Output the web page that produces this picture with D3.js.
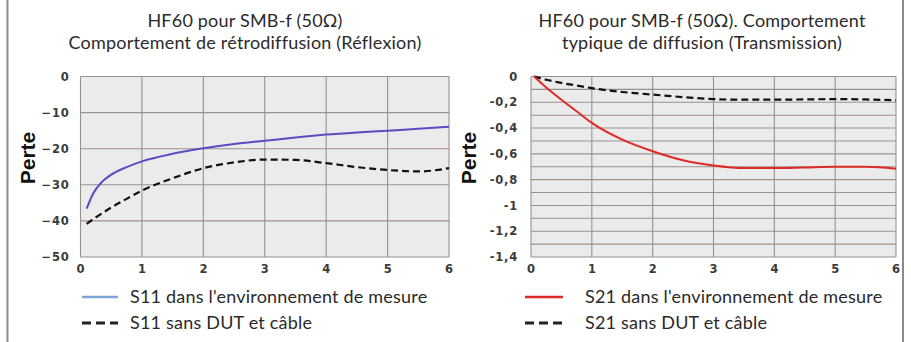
<!DOCTYPE html>
<html><head><meta charset="utf-8">
<script src="https://cdn.jsdelivr.net/npm/d3@7"></script>
<style>
html,body{margin:0;padding:0;background:#fff;}
svg{display:block;}
.title{font-family:Lato,"Open Sans",sans-serif;font-size:18px;letter-spacing:0.2px;fill:#2a2a2a;}
.leg{font-family:Lato,"Open Sans",sans-serif;font-size:18px;letter-spacing:0.2px;fill:#2a2a2a;}
.tick text{font-family:"DejaVu Sans",Arial,sans-serif;font-weight:bold;font-size:11.5px;letter-spacing:0.8px;fill:#3a3a3a;}
.ytitle{font-family:"Liberation Sans",Arial,sans-serif;font-weight:bold;font-size:21px;fill:#111;}
</style>
</head><body>
<svg id="c" width="911" height="342"></svg>
<script>
// ---- data ----
const freqS11 = [0.1,0.2,0.35,0.5,0.75,1,1.5,2,2.5,3,3.5,4,4.5,5,5.5,6];
const s11Measured = [-36.6,-32.6,-29.2,-27.2,-25.1,-23.5,-21.4,-19.9,-18.7,-17.8,-16.9,-16.1,-15.5,-15.0,-14.5,-13.9];
const s11Reference = [-40.8,-39.6,-37.9,-36.3,-33.9,-31.6,-28.2,-25.4,-23.8,-23.0,-23.1,-24.0,-25.1,-25.9,-26.3,-25.4];

const freqS21 = [0.05,0.25,0.5,0.75,1,1.5,2,2.5,3,3.5,4,4.5,5,5.5,6];
const s21Measured = [0,-0.085,-0.18,-0.27,-0.36,-0.49,-0.58,-0.65,-0.69,-0.71,-0.71,-0.705,-0.70,-0.70,-0.715];
const s21Reference = [0,-0.025,-0.05,-0.07,-0.09,-0.12,-0.14,-0.16,-0.175,-0.18,-0.18,-0.178,-0.175,-0.178,-0.185];

const xTicks = [0,1,2,3,4,5,6];
const yTicksS11 = [0,-10,-20,-30,-40,-50];
const yGridS21 = [0,-0.1,-0.2,-0.3,-0.4,-0.5,-0.6,-0.7,-0.8,-0.9,-1,-1.1,-1.2,-1.3,-1.4];
const yTicksS21 = [0,-0.2,-0.4,-0.6,-0.8,-1,-1.2,-1.4];

const titleLeft = ["HF60 pour SMB-f (50\u03A9)","Comportement de rétrodiffusion (Réflexion)"];
const titleRight = ["HF60 pour SMB-f (50\u03A9). Comportement","typique de diffusion (Transmission)"];
const legendLeft = ["S11 dans l'environnement de mesure","S11 sans DUT et câble"];
const legendRight = ["S21 dans l'environnement de mesure","S21 sans DUT et câble"];
const yTitle = "Perte";

// ---- drawing ----
const svg = d3.select("#c");
const gridColor = "#9a918b";

// frame lines
svg.append("line").attr("x1",7.5).attr("x2",7.5).attr("y1",0).attr("y2",342).attr("stroke","#8a8a8a").attr("stroke-width",2);
svg.append("line").attr("x1",903).attr("x2",903).attr("y1",0).attr("y2",342).attr("stroke","#8a8a8a").attr("stroke-width",2);

function panel(opt){
  const x = d3.scaleLinear().domain([0,6]).range(opt.xr);
  const y = d3.scaleLinear().domain(opt.yd).range([257,76.5]);
  const g = svg.append("g");
  g.append("rect").attr("x",opt.xr[0]).attr("y",76.5).attr("width",opt.xr[1]-opt.xr[0]).attr("height",257-76.5).attr("fill","#ebebeb");
  // horizontal grid
  g.append("g").selectAll("line").data(opt.grid).join("line")
    .attr("x1",opt.xr[0]).attr("x2",opt.xr[1]).attr("y1",d=>y(d)).attr("y2",d=>y(d))
    .attr("stroke",gridColor).attr("stroke-width",1.1);
  // vertical grid
  g.append("g").selectAll("line").data(xTicks).join("line")
    .attr("x1",d=>x(d)).attr("x2",d=>x(d)).attr("y1",76.5).attr("y2",257)
    .attr("stroke",gridColor).attr("stroke-width",1.1);
  // axes
  const ax = g.append("g").attr("transform","translate(0,257)")
    .call(d3.axisBottom(x).tickValues(xTicks).tickSize(0).tickPadding(8).tickFormat(d3.format("d")));
  ax.select(".domain").remove();
  const ay = g.append("g").attr("transform",`translate(${opt.xr[0]},0)`)
    .call(d3.axisLeft(y).tickValues(opt.ticks).tickSize(0).tickPadding(opt.pad).tickFormat(opt.fmt));
  ay.select(".domain").remove();
  // y title
  g.append("text").attr("class","ytitle").attr("text-anchor","middle")
    .attr("transform",`translate(${opt.ytx},158) rotate(-90)`).text(yTitle);
  // lines
  const line = d3.line().x(d=>x(d[0])).y(d=>y(d[1])).curve(d3.curveMonotoneX);
  g.append("path").datum(d3.zip(opt.fx,opt.ref)).attr("d",line).attr("fill","none")
    .attr("stroke","#111").attr("stroke-width",2.2).attr("stroke-dasharray","7,4");
  g.append("path").datum(d3.zip(opt.fx,opt.meas)).attr("d",line).attr("fill","none")
    .attr("stroke",opt.color).attr("stroke-width",2);
  // titles
  svg.append("g").selectAll("text").data(opt.title).join("text").attr("class","title")
    .attr("x",opt.tx).attr("y",(d,i)=>27+i*21.6).attr("text-anchor","middle").text(d=>d);
  // legend
  const lg = svg.append("g");
  lg.append("line").attr("x1",opt.lx[0]).attr("x2",opt.lx[1]).attr("y1",297).attr("y2",297)
    .attr("stroke",opt.legColor).attr("stroke-width",2.5);
  lg.append("line").attr("x1",opt.lx[0]).attr("x2",opt.lx[1]).attr("y1",323).attr("y2",323)
    .attr("stroke","#222").attr("stroke-width",3).attr("stroke-dasharray","9,5");
  lg.selectAll("text").data(opt.legend).join("text").attr("class","leg")
    .attr("x",opt.ltx).attr("y",(d,i)=>303+i*26).text(d=>d);
}

panel({xr:[80.5,449], yd:[-50,0], grid:yTicksS11, ticks:yTicksS11, pad:11, fmt:d3.format("d"),
  ytx:35, fx:freqS11, meas:s11Measured, ref:s11Reference, color:"#5a4cc0",
  title:titleLeft, tx:245, legend:legendLeft, lx:[82,118], ltx:130, legColor:"#7ea6d8"});
panel({xr:[531,896], yd:[-1.4,0], grid:yGridS21, ticks:yTicksS21, pad:13,
  fmt:d=>d3.format("~g")(d).replace(".",",").replace("−","-"),
  ytx:476, fx:freqS21, meas:s21Measured, ref:s21Reference, color:"#de2a26",
  title:titleRight, tx:702, legend:legendRight, lx:[525,563], ltx:585, legColor:"#de2a26"});
</script>
</body></html>
